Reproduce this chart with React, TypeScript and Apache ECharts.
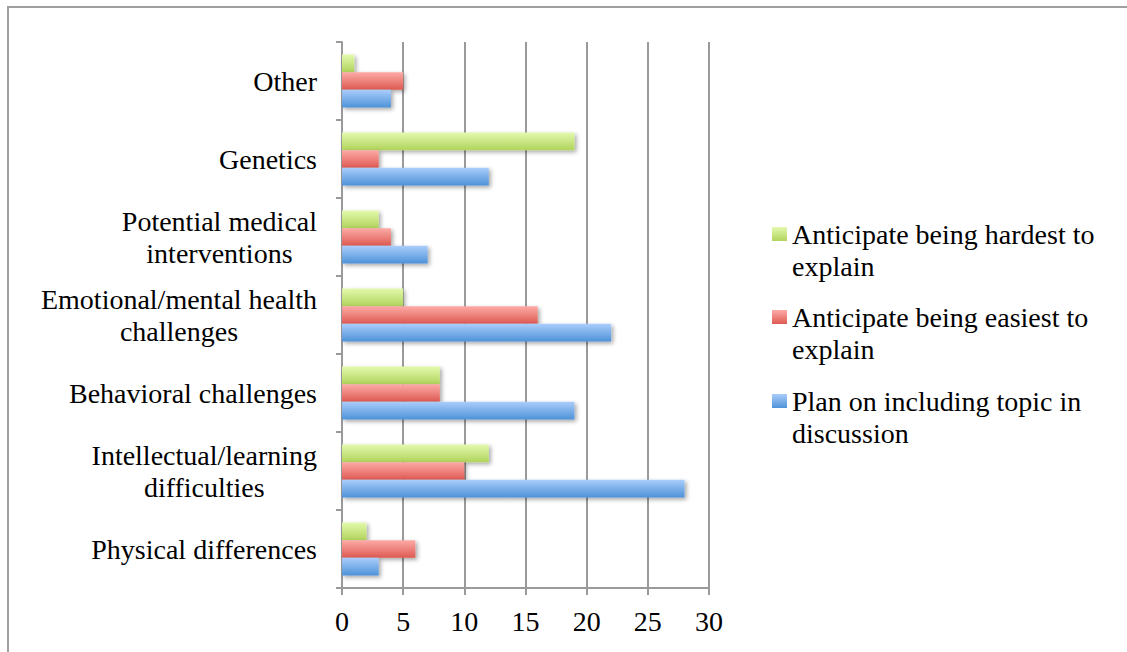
import React, { useEffect, useRef } from "react";
import * as echarts from "echarts";

const categories = [
  "Physical differences",
  "Intellectual/learning\ndifficulties",
  "Behavioral challenges",
  "Emotional/mental health\nchallenges",
  "Potential medical\ninterventions",
  "Genetics",
  "Other",
];
const hardestValues = [2, 12, 8, 5, 3, 19, 1];
const easiestValues = [6, 10, 8, 16, 4, 3, 5];
const planValues = [3, 28, 19, 22, 7, 12, 4];
const seriesNames = [
  "Anticipate being hardest to explain",
  "Anticipate being easiest to explain",
  "Plan on including topic in discussion",
];
const legendLabels: Record<string, string> = {
  "Anticipate being hardest to explain": "Anticipate being hardest to\nexplain",
  "Anticipate being easiest to explain": "Anticipate being easiest to\nexplain",
  "Plan on including topic in discussion": "Plan on including topic in\ndiscussion",
};
const xTicks = { min: 0, max: 30, interval: 5 };

const FONT = "Liberation Serif";
const FS = 28;

const grad = (top: string, bottom: string) =>
  new echarts.graphic.LinearGradient(0, 0, 0, 1, [
    { offset: 0, color: top },
    { offset: 1, color: bottom },
  ]);

export default function App() {
  const ref = useRef<HTMLDivElement>(null);
  useEffect(() => {
    if (!ref.current) return;
    const chart = echarts.init(ref.current, undefined, { renderer: "svg" });
    const colors = [
      grad("#e3f9ae", "#b1d45c"),
      grad("#fdaba7", "#de5a52"),
      grad("#aacdfb", "#4e92d8"),
    ];
    const values = [hardestValues, easiestValues, planValues];
    const legendTops = [186, 269, 353];
    const mkLegend = (i: number) => ({
      data: [seriesNames[i]],
      orient: "vertical",
      left: 772,
      top: legendTops[i],
      padding: 0,
      itemWidth: 15,
      itemHeight: 14,
      itemGap: 0,
      itemStyle: { shadowBlur: 0, shadowOffsetX: 0, shadowOffsetY: 0 },
      icon: "rect",
      textStyle: {
        fontFamily: FONT,
        fontSize: FS,
        color: "#000",
        lineHeight: 32,
      },
      formatter: (n: string) => "\n" + legendLabels[n],
      selectedMode: false,
    });
    chart.setOption({
      animation: false,
      backgroundColor: "#fff",
      textStyle: { fontFamily: FONT },
      graphic: [
        {
          type: "rect",
          shape: { x: 8, y: 7, width: 1300, height: 800 },
          style: { fill: "none", stroke: "#a0a0a0", lineWidth: 2 },
          silent: true,
        },
      ],
      legend: [mkLegend(0), mkLegend(1), mkLegend(2)],
      grid: { left: 342, right: 418, top: 42, bottom: 64, containLabel: false },
      xAxis: {
        type: "value",
        min: xTicks.min,
        max: xTicks.max,
        interval: xTicks.interval,
        axisLine: { show: true, lineStyle: { color: "#9a9a9a", width: 2 } },
        axisTick: { show: true, length: 7, lineStyle: { color: "#9a9a9a", width: 2 } },
        splitLine: { show: true, lineStyle: { color: "#9a9a9a", width: 2 } },
        axisLabel: { fontFamily: FONT, fontSize: FS, color: "#000", margin: 19 },
      },
      yAxis: {
        type: "category",
        data: categories,
        axisLine: { show: true, lineStyle: { color: "#9a9a9a", width: 2 } },
        axisTick: { show: true, length: 6, lineStyle: { color: "#9a9a9a", width: 2 } },
        axisLabel: {
          margin: 25,
          align: "right",
          color: "#000",
          fontFamily: FONT,
          fontSize: FS,
          formatter: (v: string) =>
            v
              .split("\n")
              .map((l) => `{c|${l}}`)
              .join("\n"),
          rich: {
            c: {
              align: "center",
              fontFamily: FONT,
              fontSize: FS,
              color: "#000",
              lineHeight: 32,
            },
          },
        },
      },
      series: seriesNames.map((name, i) => ({
        name,
        type: "bar",
        data: values[i],
        barGap: "0%",
        barCategoryGap: "32%",
        itemStyle: {
          color: colors[i],
          shadowColor: "rgba(0,0,0,0.35)",
          shadowBlur: 4,
          shadowOffsetX: 2,
          shadowOffsetY: 2,
        },
      })),
    });
    return () => chart.dispose();
  }, []);
  return (
    <div
      ref={ref}
      style={{ position: "absolute", left: 0, top: 0, width: 1127, height: 652 }}
    />
  );
}
